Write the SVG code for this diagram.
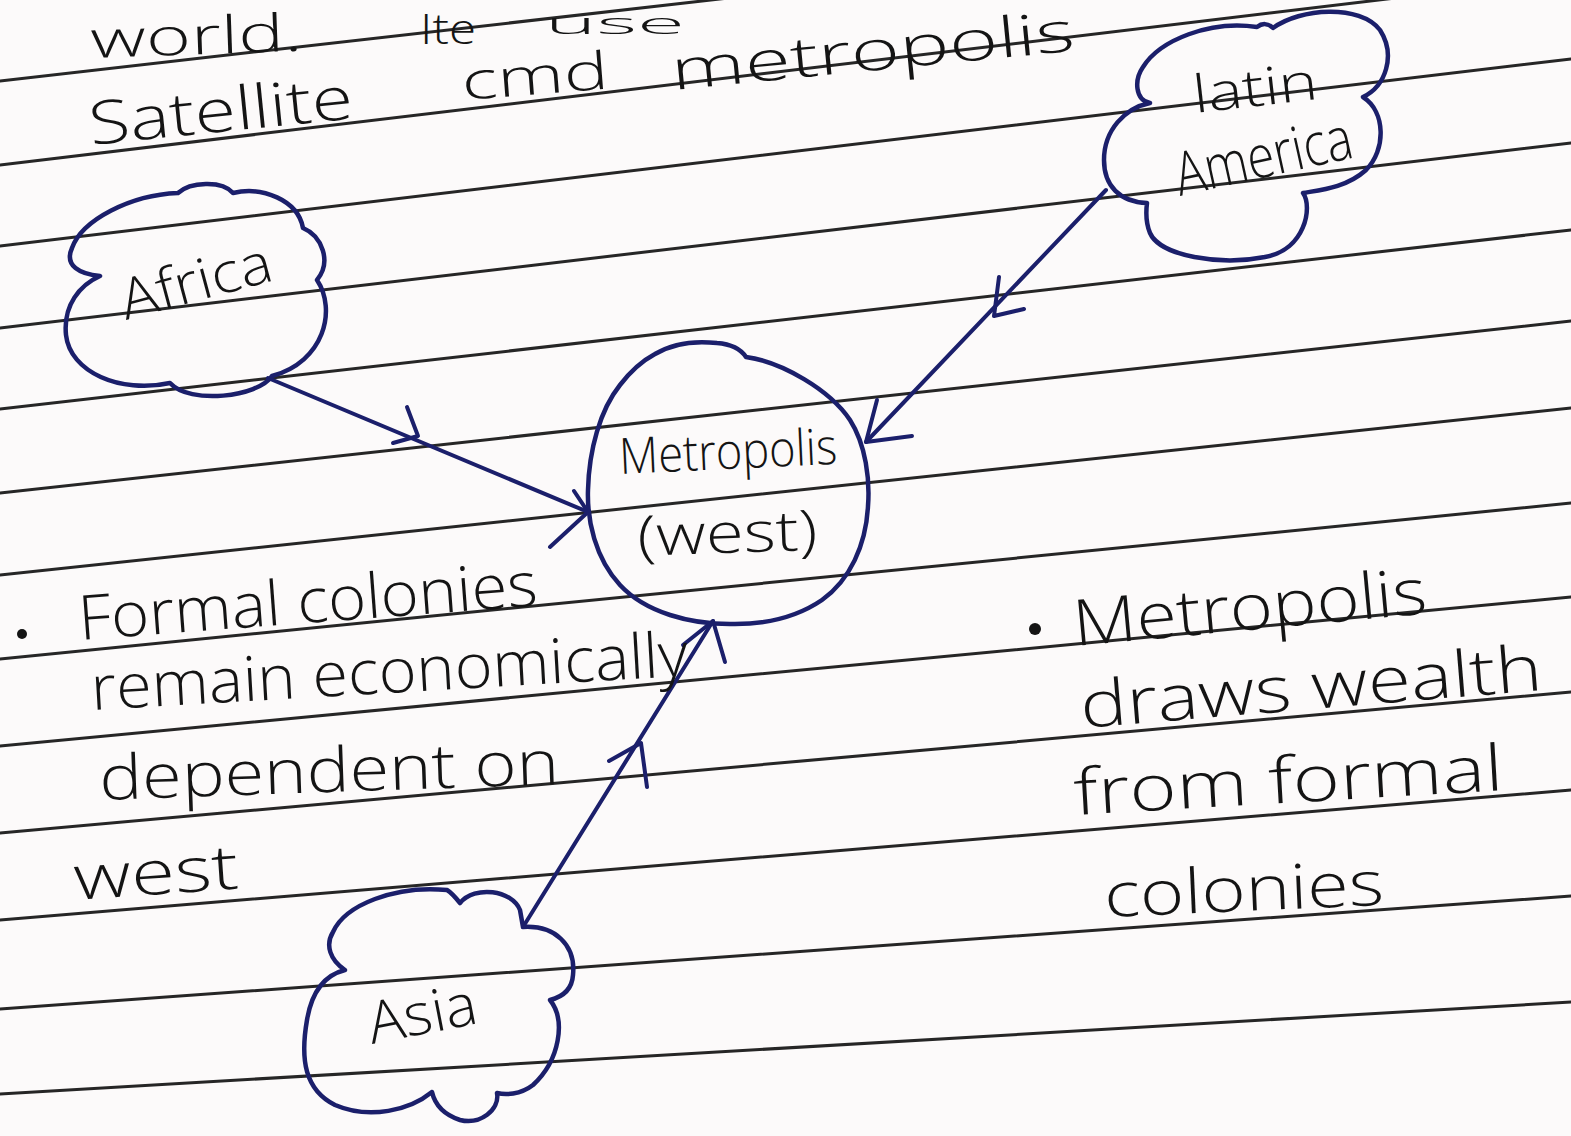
<svg xmlns="http://www.w3.org/2000/svg" width="1571" height="1136" viewBox="0 0 1571 1136">
<style>
.rule{stroke:#262626;stroke-width:3;fill:none;stroke-linecap:round}
.ink{fill:none;stroke:#1b1f6b;stroke-width:4.5;stroke-linejoin:round;stroke-linecap:round}
.conn{fill:none;stroke:#1b1f6b;stroke-width:4;stroke-linecap:round;stroke-linejoin:round}
.hw{font-family:'Open Sans','Liberation Sans',sans-serif;font-weight:300;fill:#141414}
</style>
<rect width="1571" height="1136" fill="#fcfafa"/>
<g id="ruled-lines">
<line class="rule" x1="0" y1="81" x2="1571" y2="-98"/>
<line class="rule" x1="0" y1="165" x2="1571" y2="-23"/>
<line class="rule" x1="0" y1="246" x2="1571" y2="59"/>
<line class="rule" x1="0" y1="328" x2="1571" y2="143"/>
<line class="rule" x1="0" y1="409" x2="1571" y2="230"/>
<line class="rule" x1="0" y1="493" x2="1571" y2="321"/>
<line class="rule" x1="0" y1="575" x2="1571" y2="408"/>
<line class="rule" x1="0" y1="659" x2="1571" y2="503"/>
<line class="rule" x1="0" y1="746" x2="1571" y2="597"/>
<line class="rule" x1="0" y1="833" x2="1571" y2="692"/>
<line class="rule" x1="0" y1="920" x2="1571" y2="790"/>
<line class="rule" x1="0" y1="1009" x2="1571" y2="896"/>
<line class="rule" x1="0" y1="1094" x2="1571" y2="1002"/>
</g>
<g id="top-notes">
<text class="hw" x="91" y="58" font-size="52" textLength="212" lengthAdjust="spacingAndGlyphs" transform="rotate(-2 91 58)">world.</text>
<text class="hw" x="420" y="44" font-size="42" textLength="56" lengthAdjust="spacingAndGlyphs">Ite</text>
<text class="hw" x="545" y="34" font-size="30" textLength="140" lengthAdjust="spacingAndGlyphs">use</text>
<text class="hw" x="91" y="145" font-size="60" textLength="265" lengthAdjust="spacingAndGlyphs" transform="rotate(-5.8 91 145)">Satellite</text>
<text class="hw" x="463" y="100" font-size="52" textLength="147" lengthAdjust="spacingAndGlyphs" transform="rotate(-4.5 463 100)">cmd</text>
<text class="hw" x="673" y="90" font-size="56" textLength="405" lengthAdjust="spacingAndGlyphs" transform="rotate(-5.6 673 90)">metropolis</text>
</g>
<g id="connectors">
<line class="conn" x1="268" y1="378" x2="588" y2="512"/>
<polyline class="conn" points="407,407 418,436 393,443"/>
<polyline class="conn" points="574,491 588,512 550,547"/>
<line class="conn" x1="1106" y1="190" x2="866" y2="442"/>
<polyline class="conn" points="999,277 994,316 1024,309"/>
<polyline class="conn" points="877,400 866,442 912,436"/>
<line class="conn" x1="523" y1="927" x2="713" y2="621"/>
<polyline class="conn" points="609,761 641,743 647,787"/>
<polyline class="conn" points="683,645 713,621 725,662"/>
</g>
<g id="node-africa">
<path class="ink" d="M100,276 C80,274 64,266 72,248 C82,220 130,195 178,193 C190,182 222,180 233,193 C262,186 298,200 303,228 C322,236 332,262 317,280 C337,310 324,362 272,376 C258,397 190,405 170,383 C120,394 70,372 66,335 C63,305 80,285 100,276 Z"/>
<text class="hw" x="126" y="320" font-size="56" textLength="155" lengthAdjust="spacingAndGlyphs" transform="rotate(-15 126 320)">Africa</text>
</g>
<g id="node-latin-america">
<path class="ink" d="M1150,103 C1135,100 1134,80 1143,67 C1160,40 1210,20 1257,27 C1262,23 1268,23 1273,28 C1300,8 1360,4 1380,30 C1396,55 1386,86 1363,97 C1386,112 1386,150 1366,170 C1346,188 1320,190 1303,193 C1313,207 1305,250 1265,257 C1220,266 1160,256 1150,233 C1145,221 1146,211 1147,203 C1120,202 1104,186 1104,160 C1104,130 1125,108 1150,103 Z"/>
<text class="hw" x="1195" y="113" font-size="52" textLength="125" lengthAdjust="spacingAndGlyphs" transform="rotate(-6.5 1195 113)">latin</text>
<text class="hw" x="1180" y="196" font-size="60" textLength="180" lengthAdjust="spacingAndGlyphs" transform="rotate(-12.5 1180 196)">America</text>
</g>
<g id="node-metropolis">
<path class="ink" d="M655,354 C670,345 690,340 717,343 C730,344 740,348 746,357 C782,362 830,390 850,420 C866,445 870,480 868,506 C866,545 850,580 822,600 C800,615 770,624 735,624 C690,625 645,612 620,585 C595,558 587,520 588,490 C589,450 600,410 620,385 C630,372 640,362 655,354 Z"/>
<text class="hw" x="620" y="474" font-size="50" textLength="218" lengthAdjust="spacingAndGlyphs" transform="rotate(-2.7 620 474)">Metropolis</text>
<text class="hw" x="638" y="556" font-size="56" textLength="180" lengthAdjust="spacingAndGlyphs" transform="rotate(-2 638 556)">(west)</text>
</g>
<g id="node-asia">
<path class="ink" d="M345,970 C330,960 325,945 333,932 C345,905 395,885 447,890 C452,893 456,898 460,903 C475,885 512,890 520,910 L523,927 C555,925 576,945 573,975 C572,990 562,997 550,1000 C566,1020 560,1060 533,1085 C520,1095 505,1095 497,1093 C500,1110 480,1125 460,1120 C445,1115 435,1105 432,1092 C410,1110 370,1120 335,1105 C305,1090 300,1060 307,1020 C312,990 325,975 345,970 Z"/>
<text class="hw" x="372" y="1044" font-size="58" textLength="110" lengthAdjust="spacingAndGlyphs" transform="rotate(-11 372 1044)">Asia</text>
</g>
<g id="note-left">
<circle cx="22" cy="634" r="5" fill="#141414"/>
<text class="hw" x="80" y="640" font-size="62" textLength="460" lengthAdjust="spacingAndGlyphs" transform="rotate(-4.3 80 640)">Formal colonies</text>
<text class="hw" x="92" y="710" font-size="62" textLength="598" lengthAdjust="spacingAndGlyphs" transform="rotate(-3.3 92 710)">remain economically</text>
<text class="hw" x="100" y="800" font-size="62" textLength="460" lengthAdjust="spacingAndGlyphs" transform="rotate(-2 100 800)">dependent on</text>
<text class="hw" x="75" y="900" font-size="62" textLength="165" lengthAdjust="spacingAndGlyphs" transform="rotate(-4 75 900)">west</text>
</g>
<g id="note-right">
<circle cx="1035" cy="629" r="6" fill="#141414"/>
<text class="hw" x="1075" y="646" font-size="64" textLength="355" lengthAdjust="spacingAndGlyphs" transform="rotate(-5.3 1075 646)">Metropolis</text>
<text class="hw" x="1082" y="728" font-size="64" textLength="463" lengthAdjust="spacingAndGlyphs" transform="rotate(-4.7 1082 728)">draws wealth</text>
<text class="hw" x="1075" y="815" font-size="64" textLength="430" lengthAdjust="spacingAndGlyphs" transform="rotate(-3.3 1075 815)">from formal</text>
<text class="hw" x="1105" y="917" font-size="62" textLength="280" lengthAdjust="spacingAndGlyphs" transform="rotate(-2.5 1105 917)">colonies</text>
</g>
</svg>
